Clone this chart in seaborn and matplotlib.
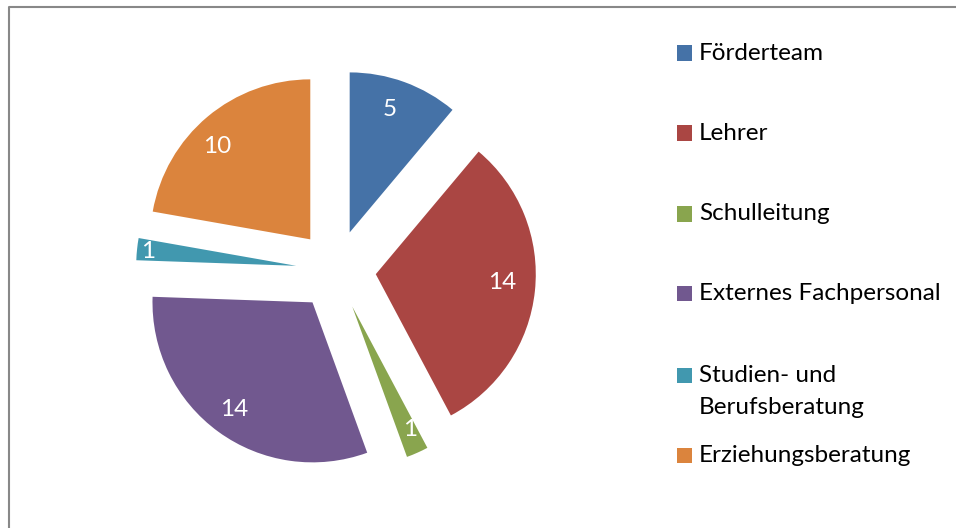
import matplotlib
matplotlib.use("Agg")
import matplotlib.pyplot as plt
import seaborn as sns
import numpy as np
from matplotlib.patches import Rectangle
from matplotlib.lines import Line2D

categories = ["Förderteam", "Lehrer", "Schulleitung", "Externes Fachpersonal",
              "Studien- und\nBerufsberatung", "Erziehungsberatung"]
values = [5, 14, 1, 14, 1, 10]
colors = ["#4572A7", "#AA4643", "#89A54E", "#71588F", "#4198AF", "#DB843D"]

sns.set_theme(style="white")
plt.rcParams["font.family"] = ["Lato", "DejaVu Sans"]
palette = sns.color_palette(colors)

W, H = 956, 528
fig = plt.figure(figsize=(W / 100, H / 100), dpi=100)
fig.patch.set_facecolor("white")

# pie axes: center at (336, 270) px, radius 160 px
cx, cy, R = 336, 270, 160
half = 1.25 * R
ax = fig.add_axes([(cx - half) / W, (H - cy - half) / H, 2 * half / W, 2 * half / H])
ax.set_xlim(-1.25, 1.25)
ax.set_ylim(-1.25, 1.25)
ax.set_aspect("equal")
ax.axis("off")

explode = [0.25] * len(values)
wedges, _ = ax.pie(values, colors=palette, startangle=90, counterclock=False,
                   explode=explode, radius=1.0, wedgeprops=dict(linewidth=0))

label_dist = [0.81, 0.79, 0.85, 0.83, 0.93, 0.82]
label_shift = [2.0, 2.4, 1.2, 0.0, 0.6, 5.0]
for w, v, d, s in zip(wedges, values, label_dist, label_shift):
    th = np.deg2rad((w.theta1 + w.theta2) / 2 + s)
    x0, y0 = w.center
    ax.text(x0 + d * np.cos(th), y0 + d * np.sin(th), str(v), ha="center", va="center",
            color="white", fontsize=17.5)

# legend drawn manually
legend_y = [53, 133, 214, 293, 375, 455]
for lab, col, y in zip(categories, palette, legend_y):
    fig.patches.append(Rectangle((677 / W, (H - y - 7.5) / H), 15 / W, 15 / H,
                                 transform=fig.transFigure, facecolor=col, edgecolor="none"))
    lines = lab.split("\n")
    for k, ln in enumerate(lines):
        fig.text(699 / W, (H - y - k * 32) / H, ln, ha="left", va="center",
                 fontsize=17.5, color="black")

# chart border (left and top)
fig.lines.append(Line2D([8.5 / W, 8.5 / W, 1.0], [0.0, (H - 6.5) / H, (H - 6.5) / H],
                        transform=fig.transFigure, color="#888888", linewidth=1.5))

fig.savefig("out.png", dpi=100, facecolor="white")
